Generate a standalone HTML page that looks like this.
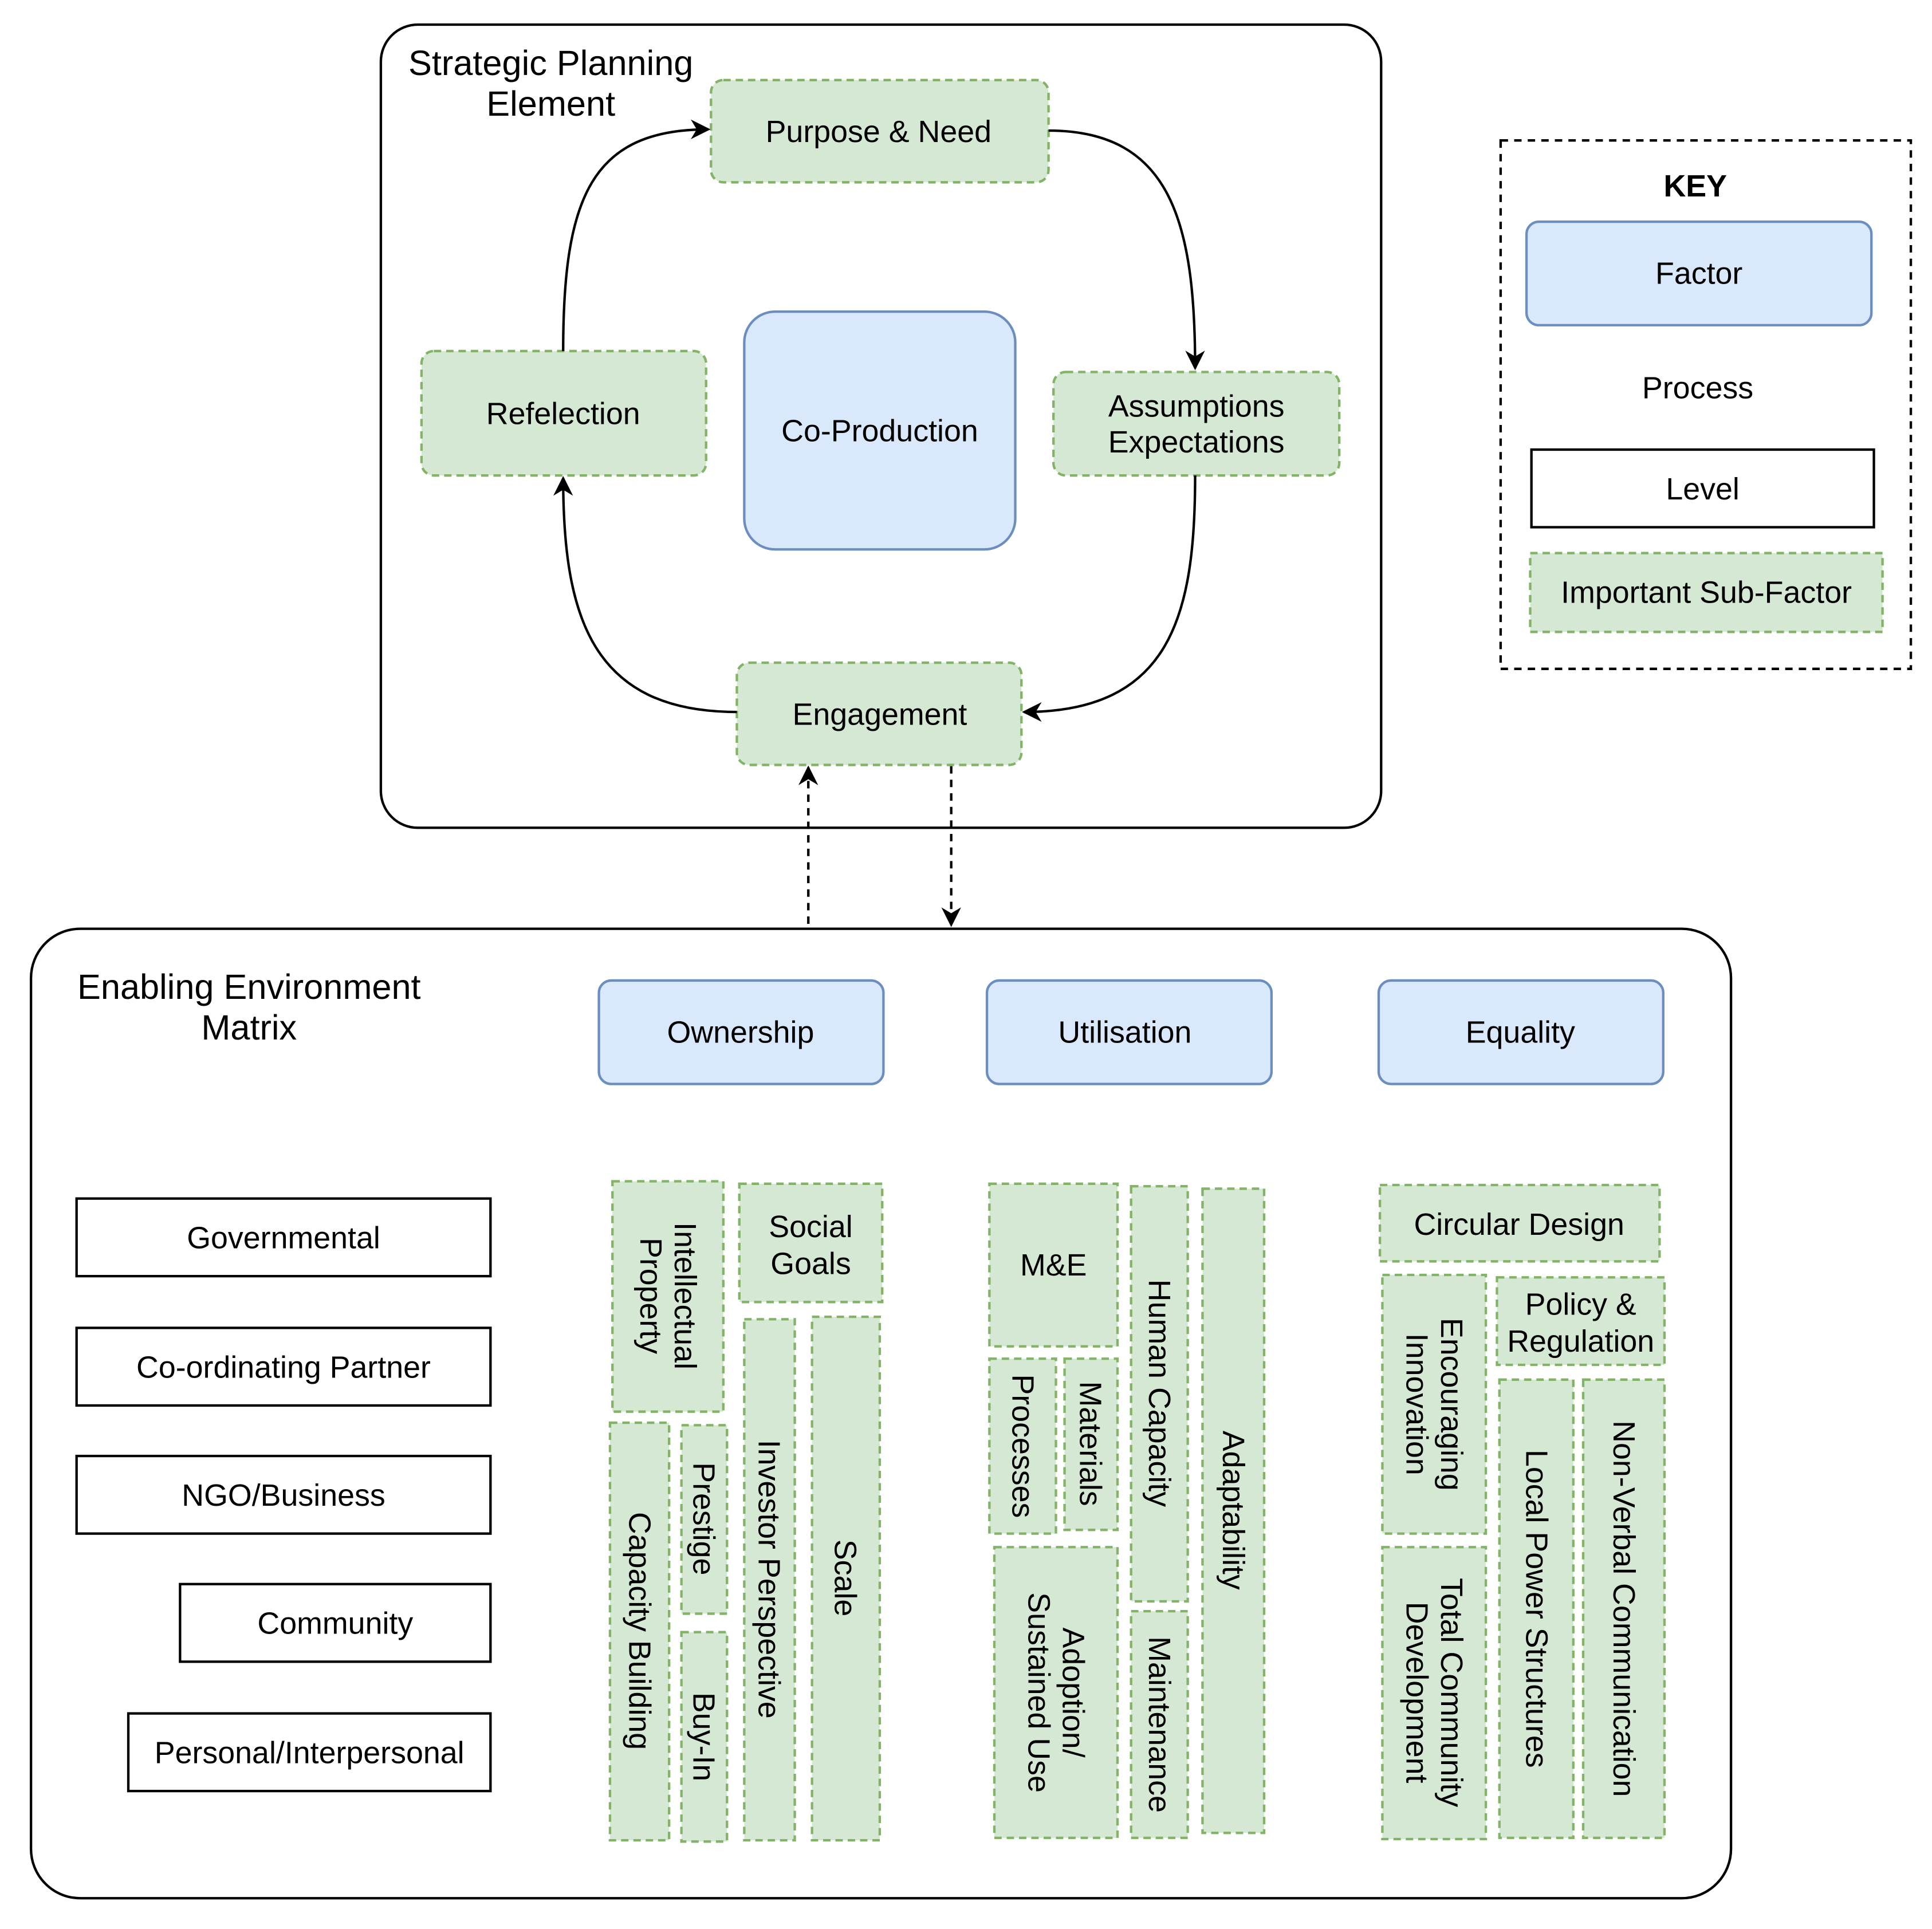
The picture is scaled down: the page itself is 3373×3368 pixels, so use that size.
<!DOCTYPE html>
<html><head><meta charset="utf-8"><style>
html,body{margin:0;padding:0;background:#fff;}
svg{display:block;}
text{font-family:"Liberation Sans",Arial,sans-serif;font-size:25px;fill:#000;}
.t{font-size:28.5px;}
.g{fill:#d5e8d4;stroke:#82b366;stroke-width:2;stroke-dasharray:6,4;}
.b{fill:#dae8fc;stroke:#6c8ebf;stroke-width:2;}
.l{fill:#fff;stroke:#000;stroke-width:2;}
.c{fill:none;stroke:#000;stroke-width:2;}
</style></head><body>
<svg width="3373" height="3368" viewBox="0 0 1568 1566" xmlns="http://www.w3.org/2000/svg">
<defs><marker id="a" viewBox="0 0 10 10" refX="9" refY="5" markerWidth="8" markerHeight="8" orient="auto-start-reverse"><path d="M0,0 L10,5 L0,10 L3,5 z" fill="#000"/></marker></defs>
<rect x="0" y="0" width="1568" height="1566" fill="#fff"/>
<rect x="309" y="20" width="812" height="652" rx="30" class="c"/>
<text x="447" y="61" text-anchor="middle" class="t">Strategic Planning</text>
<text x="447" y="94" text-anchor="middle" class="t">Element</text>
<rect x="577" y="65" width="274" height="83" rx="10" class="g"/><text x="713" y="107" text-anchor="middle" dominant-baseline="central">Purpose &amp; Need</text>
<rect x="342" y="285" width="231" height="101" rx="10" class="g"/><text x="457" y="336" text-anchor="middle" dominant-baseline="central">Refelection</text>
<rect x="604" y="253" width="220" height="193" rx="25" class="b"/><text x="714" y="350" text-anchor="middle" dominant-baseline="central">Co-Production</text>
<rect x="855" y="302" width="232" height="84" rx="10" class="g"/><text x="971" y="330" text-anchor="middle" dominant-baseline="central">Assumptions</text><text x="971" y="359" text-anchor="middle" dominant-baseline="central">Expectations</text>
<rect x="598" y="538" width="231" height="83" rx="10" class="g"/><text x="714" y="580" text-anchor="middle" dominant-baseline="central">Engagement</text>
<path d="M851,106 C950,106 970,180 970,299" class="c" marker-end="url(#a)"/>
<path d="M970,386 C970,500 950,578 831,578" class="c" marker-end="url(#a)"/>
<path d="M598,578 C480,578 457,500 457,388" class="c" marker-end="url(#a)"/>
<path d="M457,285 C457,160 480,105 575,105" class="c" marker-end="url(#a)"/>
<path d="M656,750 L656,623" class="c" stroke-dasharray="6,5" marker-end="url(#a)"/>
<path d="M772,622 L772,751" class="c" stroke-dasharray="6,5" marker-end="url(#a)"/>
<rect x="1218" y="114" width="333" height="429" class="c" stroke-dasharray="6,5"/>
<text x="1376" y="151" text-anchor="middle" dominant-baseline="central" font-weight="bold">KEY</text>
<rect x="1239" y="180" width="280" height="84" rx="10" class="b"/><text x="1379" y="222" text-anchor="middle" dominant-baseline="central">Factor</text>
<text x="1378" y="315" text-anchor="middle" dominant-baseline="central">Process</text>
<rect x="1243" y="365" width="278" height="63" class="l"/><text x="1382" y="397" text-anchor="middle" dominant-baseline="central">Level</text>
<rect x="1242" y="449" width="286" height="64" class="g"/><text x="1385" y="481" text-anchor="middle" dominant-baseline="central">Important Sub-Factor</text>
<rect x="25" y="754" width="1380" height="787" rx="40" class="c"/>
<text x="202" y="811" text-anchor="middle" class="t">Enabling Environment</text>
<text x="202" y="844" text-anchor="middle" class="t">Matrix</text>
<rect x="486" y="796" width="231" height="84" rx="10" class="b"/><text x="601" y="838" text-anchor="middle" dominant-baseline="central">Ownership</text>
<rect x="801" y="796" width="231" height="84" rx="10" class="b"/><text x="913" y="838" text-anchor="middle" dominant-baseline="central">Utilisation</text>
<rect x="1119" y="796" width="231" height="84" rx="10" class="b"/><text x="1234" y="838" text-anchor="middle" dominant-baseline="central">Equality</text>
<rect x="62" y="973" width="336" height="63" class="l"/><text x="230" y="1005" text-anchor="middle" dominant-baseline="central">Governmental</text>
<rect x="62" y="1078" width="336" height="63" class="l"/><text x="230" y="1110" text-anchor="middle" dominant-baseline="central">Co-ordinating Partner</text>
<rect x="62" y="1182" width="336" height="63" class="l"/><text x="230" y="1214" text-anchor="middle" dominant-baseline="central">NGO/Business</text>
<rect x="146" y="1286" width="252" height="63" class="l"/><text x="272" y="1318" text-anchor="middle" dominant-baseline="central">Community</text>
<rect x="104" y="1391" width="294" height="63" class="l"/><text x="251" y="1423" text-anchor="middle" dominant-baseline="central">Personal/Interpersonal</text>
<rect x="497" y="959" width="90" height="187" class="g"/><text transform="translate(542,1052) rotate(90)" text-anchor="middle" dominant-baseline="central"><tspan x="0" y="-14">Intellectual</tspan><tspan x="0" y="14">Property</tspan></text>
<rect x="600" y="961" width="116" height="96" class="g"/><text x="658" y="996" text-anchor="middle" dominant-baseline="central">Social</text><text x="658" y="1026" text-anchor="middle" dominant-baseline="central">Goals</text>
<rect x="495" y="1155" width="48" height="339" class="g"/><text transform="translate(519,1324) rotate(90)" text-anchor="middle" dominant-baseline="central">Capacity Building</text>
<rect x="553" y="1157" width="37" height="153" class="g"/><text transform="translate(571,1233) rotate(90)" text-anchor="middle" dominant-baseline="central">Prestige</text>
<rect x="553" y="1325" width="37" height="170" class="g"/><text transform="translate(571,1410) rotate(90)" text-anchor="middle" dominant-baseline="central">Buy-In</text>
<rect x="604" y="1071" width="41" height="423" class="g"/><text transform="translate(624,1282) rotate(90)" text-anchor="middle" dominant-baseline="central">Investor Perspective</text>
<rect x="659" y="1069" width="55" height="425" class="g"/><text transform="translate(686,1281) rotate(90)" text-anchor="middle" dominant-baseline="central">Scale</text>
<rect x="803" y="961" width="104" height="132" class="g"/><text x="855" y="1027" text-anchor="middle" dominant-baseline="central">M&amp;E</text>
<rect x="803" y="1103" width="54" height="142" class="g"/><text transform="translate(830,1174) rotate(90)" text-anchor="middle" dominant-baseline="central">Processes</text>
<rect x="864" y="1103" width="43" height="139" class="g"/><text transform="translate(885,1172) rotate(90)" text-anchor="middle" dominant-baseline="central">Materials</text>
<rect x="918" y="963" width="46" height="337" class="g"/><text transform="translate(941,1131) rotate(90)" text-anchor="middle" dominant-baseline="central">Human Capacity</text>
<rect x="976" y="965" width="50" height="523" class="g"/><text transform="translate(1001,1226) rotate(90)" text-anchor="middle" dominant-baseline="central">Adaptability</text>
<rect x="807" y="1256" width="100" height="236" class="g"/><text transform="translate(857,1374) rotate(90)" text-anchor="middle" dominant-baseline="central"><tspan x="0" y="-14">Adoption/</tspan><tspan x="0" y="14">Sustained Use</tspan></text>
<rect x="918" y="1308" width="46" height="184" class="g"/><text transform="translate(941,1400) rotate(90)" text-anchor="middle" dominant-baseline="central">Maintenance</text>
<rect x="1120" y="962" width="227" height="62" class="g"/><text x="1233" y="994" text-anchor="middle" dominant-baseline="central">Circular Design</text>
<rect x="1122" y="1035" width="84" height="210" class="g"/><text transform="translate(1164,1140) rotate(90)" text-anchor="middle" dominant-baseline="central"><tspan x="0" y="-14">Encouraging</tspan><tspan x="0" y="14">Innovation</tspan></text>
<rect x="1215" y="1037" width="136" height="71" class="g"/><text x="1283" y="1059" text-anchor="middle" dominant-baseline="central">Policy &amp;</text><text x="1283" y="1089" text-anchor="middle" dominant-baseline="central">Regulation</text>
<rect x="1122" y="1256" width="84" height="237" class="g"/><text transform="translate(1164,1374) rotate(90)" text-anchor="middle" dominant-baseline="central"><tspan x="0" y="-14">Total Community</tspan><tspan x="0" y="14">Development</tspan></text>
<rect x="1217" y="1120" width="60" height="372" class="g"/><text transform="translate(1247,1306) rotate(90)" text-anchor="middle" dominant-baseline="central">Local Power Structures</text>
<rect x="1285" y="1120" width="66" height="372" class="g"/><text transform="translate(1318,1306) rotate(90)" text-anchor="middle" dominant-baseline="central">Non-Verbal Communication</text>
</svg>
</body></html>
